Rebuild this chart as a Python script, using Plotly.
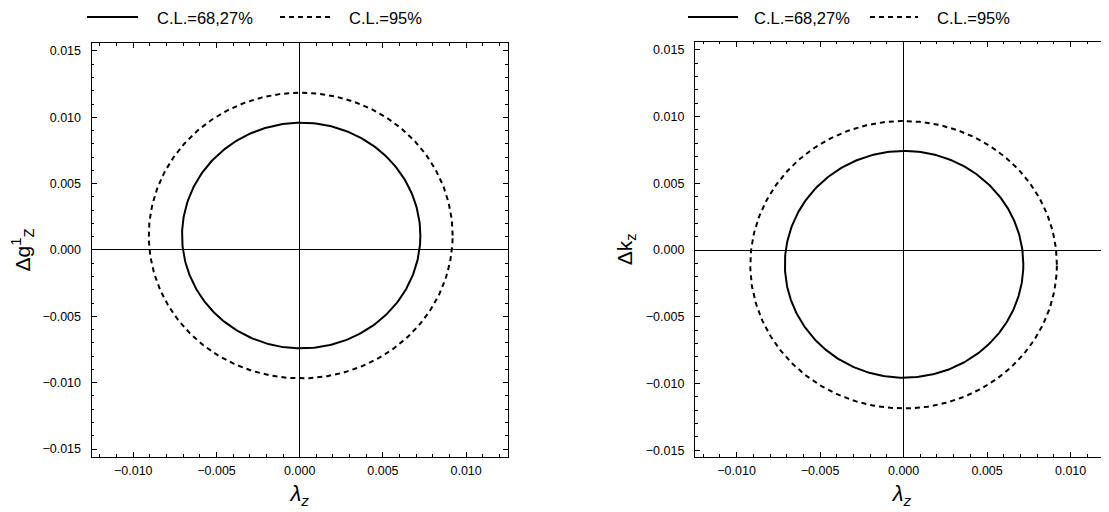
import numpy as np
import plotly.graph_objects as go

# ---- data ----
cl_labels = ["C.L.=68,27%", "C.L.=95%"]
cl_dash = ["solid", "5px,4px"]

# left panel: lambda_z vs Delta g1_Z  (ellipse centres and half-widths)
left_xc = [0.00009, 0.00006]
left_yc = [0.00109, 0.00109]
left_ax = [0.00716, 0.00913]
left_ay = [0.00850, 0.01076]

# right panel: lambda_z vs Delta k_z
right_xc = [0.00003, 0.00000]
right_yc = [-0.00107, -0.00110]
right_ax = [0.00714, 0.00918]
right_ay = [0.00849, 0.01076]

tick_vals = [-0.015, -0.010, -0.005, 0.0, 0.005, 0.010, 0.015]
tick_text = ["\u22120.015", "\u22120.010", "\u22120.005", "0.000", "0.005", "0.010", "0.015"]

FONT = "Liberation Sans, Arial, sans-serif"
W, H = 1101, 504  # page body has an 8px margin
t = np.linspace(0, 2 * np.pi, 361)

fig = go.Figure()


def add_panel(xc, yc, ax, ay, xref, yref):
    for i in range(len(cl_labels)):
        fig.add_trace(go.Scatter(
            x=xc[i] + ax[i] * np.cos(t),
            y=yc[i] + ay[i] * np.sin(t),
            mode="lines",
            name=cl_labels[i],
            line=dict(color="black", width=2, dash=cl_dash[i]),
            xaxis=xref, yaxis=yref, showlegend=False,
            hoverinfo="skip",
        ))


add_panel(left_xc, left_yc, left_ax, left_ay, "x", "y")
add_panel(right_xc, right_yc, right_ax, right_ay, "x2", "y2")


def axis_common(mirror, standoff):
    return dict(
        showgrid=False,
        zeroline=True, zerolinecolor="black", zerolinewidth=1.2,
        showline=True, linecolor="black", linewidth=1.3, mirror=mirror,
        ticks="inside", ticklen=5, tickwidth=1, tickcolor="black",
        minor=dict(dtick=0.001, ticks="inside", ticklen=2.5, tickwidth=1, tickcolor="black"),
        tickmode="array", tickvals=tick_vals, ticktext=tick_text,
        tickfont=dict(family=FONT, size=12.5, color="black"),
        ticklabelstandoff=standoff,
    )


xtitle = dict(text="<i>\u03bb</i><sub><i>z</i></sub>", font=dict(family=FONT, size=22, color="black"), standoff=8)

fig.update_layout(
    width=W, height=H,
    margin=dict(l=0, r=0, t=0, b=0),
    paper_bgcolor="white", plot_bgcolor="white",
    xaxis=dict(domain=[0.0760, 0.4539], range=[-0.0125, 0.0125], anchor="y",
               title=xtitle, **axis_common("ticks", 2)),
    yaxis=dict(domain=[0.1091, 0.9306], range=[-0.0156, 0.0156], anchor="x",
               title=dict(text="\u0394g<sup>1</sup><sub>Z</sub>", font=dict(family=FONT, size=21, color="black"), standoff=8),
               **axis_common("ticks", 7)),
    xaxis2=dict(domain=[0.6240, 1.0], range=[-0.01249, 0.0123], anchor="y2",
                title=xtitle, **axis_common("ticks", 2)),
    yaxis2=dict(domain=[0.1091, 0.9331], range=[-0.0155, 0.0156], anchor="x2",
                title=dict(text="\u0394k<sub>z</sub>", font=dict(family=FONT, size=21, color="black"), standoff=7),
                **axis_common(False, 7)),
)

# ---- legends drawn above each panel (line sample + label) ----
leg_y = 1 - 9 / H
legend_items = [
    # (line start px, line end px, text start px, series index)
    (79, 130, 147, 0), (272, 322, 339, 1),      # left panel
    (680, 730, 744, 0), (862, 910, 927, 1),     # right panel
]
for x0, x1, xt, i in legend_items:
    fig.add_shape(type="line", xref="paper", yref="paper",
                  x0=x0 / W, x1=x1 / W, y0=leg_y, y1=leg_y,
                  line=dict(color="black", width=2, dash=cl_dash[i]))
    fig.add_annotation(xref="paper", yref="paper", x=xt / W, y=leg_y - 1 / H,
                       xanchor="left", yanchor="middle", showarrow=False,
                       text=cl_labels[i], font=dict(family=FONT, size=16.5, color="black"))

fig.write_html("out.html")
